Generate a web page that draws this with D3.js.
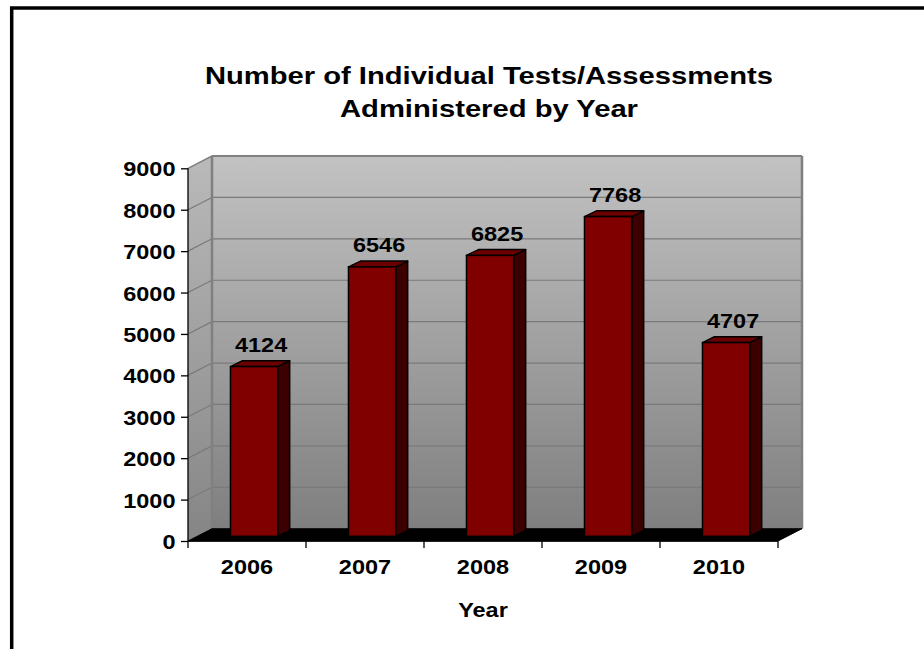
<!DOCTYPE html>
<html>
<head>
<meta charset="utf-8">
<script src="https://cdn.jsdelivr.net/npm/d3@7/dist/d3.min.js"></script>
<style>
  html, body { margin: 0; padding: 0; background: #fff; }
  svg { display: block; }
  text { font-family: "Liberation Sans", Arial, sans-serif; font-weight: bold; fill: #000; }
</style>
</head>
<body>
<svg id="chart" width="924" height="649"></svg>
<script>
// Yearly totals of individual tests / assessments
const years = ["2006", "2007", "2008", "2009", "2010"];
const counts = [4124, 6546, 6825, 7768, 4707];
const yTicks = [0, 1000, 2000, 3000, 4000, 5000, 6000, 7000, 8000, 9000];
const titleLines = ["Number of Individual Tests/Assessments", "Administered by Year"];
const xTitle = "Year";

const svg = d3.select("#chart");
const W = 924, H = 649;

// Oblique 3-D depth of the plot box
const DX = 24, DY = -12.3;
const STRETCH = 1.12;    // horizontal stretch of the glyphs
const FS = 21;           // label font size

const x = d3.scaleBand().domain(years).range([188, 778]);
const y = d3.scaleLinear().domain([0, 9000]).range([541, 168.3]);
// bars stand half way into the box, so their own vertical scale is slightly shorter
const yBar = d3.scaleLinear().domain([0, 9000]).range([536.3, 165.9]);

const defs = svg.append("defs");
const wallGrad = defs.append("linearGradient").attr("id", "wall")
  .attr("x1", 0).attr("y1", 0).attr("x2", 0).attr("y2", 1);
wallGrad.append("stop").attr("offset", "0%").attr("stop-color", "#c2c2c2");
wallGrad.append("stop").attr("offset", "100%").attr("stop-color", "#7f7f7f");
const sideGrad = defs.append("linearGradient").attr("id", "side")
  .attr("x1", 0).attr("y1", 0).attr("x2", 0).attr("y2", 1);
sideGrad.append("stop").attr("offset", "0%").attr("stop-color", "#bababa");
sideGrad.append("stop").attr("offset", "100%").attr("stop-color", "#858585");

// outer frame
svg.append("rect").attr("x", 11.7).attr("y", 8).attr("width", W + 20).attr("height", H + 20)
  .attr("fill", "none").attr("stroke", "#000").attr("stroke-width", 3.5);

const x0 = x.range()[0], x1 = x.range()[1];
const yTop = y(9000), yBot = y(0);

// back wall
svg.append("rect")
  .attr("x", x0 + DX).attr("y", yTop + DY)
  .attr("width", x1 - x0).attr("height", yBot - yTop)
  .attr("fill", "url(#wall)");

// side wall
svg.append("polygon")
  .attr("points", [[x0, yTop], [x0 + DX, yTop + DY], [x0 + DX, yBot + DY], [x0, yBot]].map(p => p.join(",")).join(" "))
  .attr("fill", "url(#side)");

// gridlines on back and side walls
const grid = svg.append("g").attr("stroke", "#7a7a7a").attr("stroke-width", 1.2).attr("fill", "none");
yTicks.filter(v => v > 0 && v < 9000).forEach(v => {
  grid.append("line").attr("x1", x0 + DX).attr("x2", x1 + DX)
    .attr("y1", y(v) + DY).attr("y2", y(v) + DY);
  grid.append("line").attr("x1", x0).attr("x2", x0 + DX)
    .attr("y1", y(v)).attr("y2", y(v) + DY);
});

// wall edges
const edges = svg.append("g").attr("stroke", "#808080").attr("fill", "none");
edges.append("line").attr("x1", x0 + DX).attr("x2", x0 + DX).attr("y1", yTop + DY).attr("y2", yBot + DY).attr("stroke-width", 2.5);
edges.append("line").attr("x1", x0 + DX).attr("x2", x1 + DX).attr("y1", yTop + DY).attr("y2", yTop + DY).attr("stroke-width", 2);
edges.append("line").attr("x1", x1 + DX).attr("x2", x1 + DX).attr("y1", yTop + DY).attr("y2", yBot + DY).attr("stroke-width", 2.5);
edges.append("line").attr("x1", x0).attr("x2", x0 + DX).attr("y1", yTop).attr("y2", yTop + DY).attr("stroke-width", 1.5);

// floor
svg.append("polygon")
  .attr("points", [[x0, yBot], [x0 + DX, yBot + DY], [x1 + DX, yBot + DY], [x1, yBot]].map(p => p.join(",")).join(" "))
  .attr("fill", "#000").attr("stroke", "#000").attr("stroke-width", 1);

// bars
const bw = x.bandwidth() * 0.40;
const bOff = x.bandwidth() * 0.36;
const bDX = 12, bDY = -5.8;
const bars = svg.append("g").selectAll("g").data(years.map((yr, i) => ({ yr, v: counts[i] }))).join("g");
bars.each(function (d) {
  const g = d3.select(this);
  const L = x(d.yr) + bOff, R = L + bw, T = yBar(d.v), B = yBar(0);
  const pts = a => a.map(p => p.join(",")).join(" ");
  g.append("polygon").attr("points", pts([[R, T], [R + bDX, T + bDY], [R + bDX, B + bDY], [R, B]]))
    .attr("fill", "#3c0000").attr("stroke", "#000").attr("stroke-width", 1.5).attr("stroke-linejoin", "round");
  g.append("polygon").attr("points", pts([[L, T], [L + bDX, T + bDY], [R + bDX, T + bDY], [R, T]]))
    .attr("fill", "#6c0000").attr("stroke", "#000").attr("stroke-width", 1.5).attr("stroke-linejoin", "round");
  g.append("rect").attr("x", L).attr("y", T).attr("width", bw).attr("height", B - T)
    .attr("fill", "#800000").attr("stroke", "#000").attr("stroke-width", 1.5);
});

// value labels
const stretched = (sel, tx, ty) => sel.attr("transform", `translate(${tx},${ty}) scale(${STRETCH},1)`);
bars.append("text")
  .attr("text-anchor", "middle").attr("font-size", FS)
  .text(d => d.v)
  .each(function (d) {
    stretched(d3.select(this), x(d.yr) + bOff + bw / 2 + 7, yBar(d.v) + bDY - 9);
  });

// value axis
const yAxis = svg.append("g").attr("transform", `translate(${x0},0)`)
  .call(d3.axisLeft(y).tickValues(yTicks).tickSize(7).tickFormat(d3.format("d")));
yAxis.select(".domain").attr("stroke", "#000").attr("stroke-width", 1.3).attr("d", `M0,${yTop}V${yBot}`);
yAxis.selectAll(".tick line").attr("stroke", "#000").attr("stroke-width", 1.3);
yAxis.selectAll(".tick text")
  .attr("x", null).attr("dy", null)
  .attr("font-size", FS).attr("fill", "#000")
  .attr("text-anchor", "end")
  .attr("transform", `translate(-12.5,7.5) scale(${STRETCH},1)`);
yAxis.attr("font-family", null).attr("font-size", null);

// category axis
const xAxis = svg.append("g").attr("transform", `translate(0,${yBot})`)
  .call(d3.axisBottom(x).tickSize(0));
xAxis.select(".domain").remove();
xAxis.selectAll(".tick text")
  .attr("y", null).attr("dy", null)
  .attr("font-size", FS).attr("fill", "#000")
  .attr("transform", `translate(0,32.5) scale(${STRETCH},1)`);
xAxis.attr("font-family", null).attr("font-size", null);
const bounds = years.map(yr => x(yr)).concat([x1]);
xAxis.selectAll(".bound").data(bounds).join("line").attr("class", "bound")
  .attr("x1", d => d).attr("x2", d => d).attr("y1", 0).attr("y2", 7)
  .attr("stroke", "#000").attr("stroke-width", 1.3);
svg.append("line").attr("x1", x0).attr("x2", x1).attr("y1", yBot).attr("y2", yBot)
  .attr("stroke", "#000").attr("stroke-width", 1.3);

// axis title
stretched(svg.append("text").attr("text-anchor", "middle").attr("font-size", FS).text(xTitle), (x0 + x1) / 2, 616.5);

// chart title
const titleWidths = [568, 298];
titleLines.forEach((t, i) => {
  svg.append("text")
    .attr("x", 489).attr("y", 84 + i * 33)
    .attr("text-anchor", "middle").attr("font-size", 23)
    .attr("textLength", titleWidths[i]).attr("lengthAdjust", "spacingAndGlyphs")
    .text(t);
});
</script>
</body>
</html>
